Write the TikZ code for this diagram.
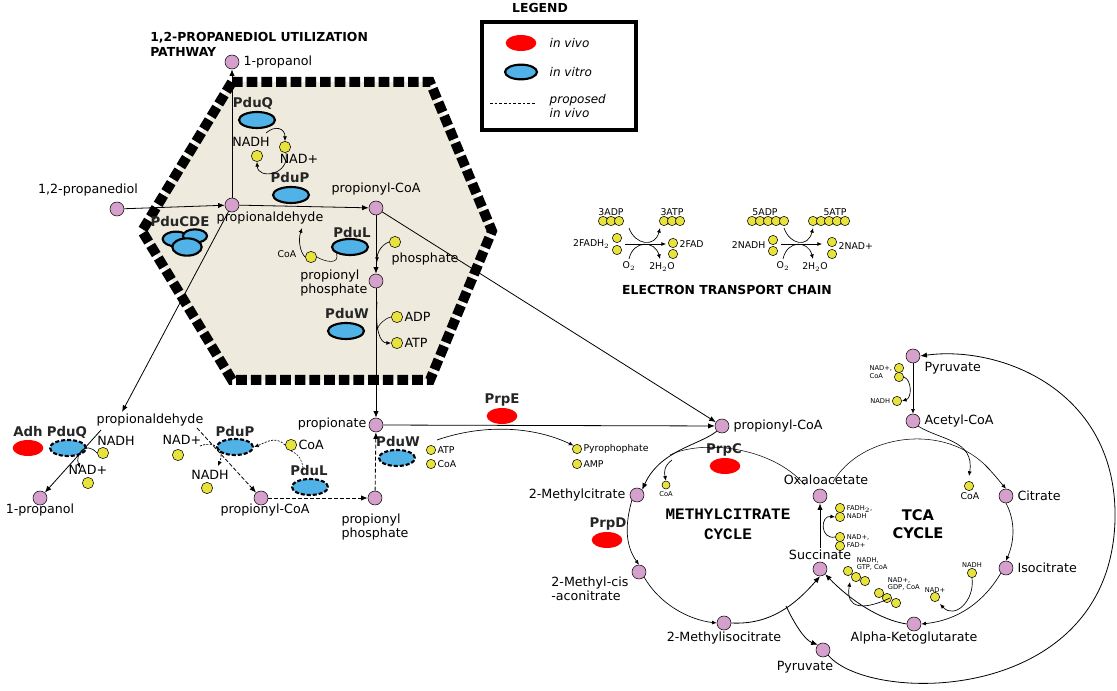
\documentclass[tikz,border=0pt]{standalone}
\usepackage{fontspec}
\setmainfont{DejaVu Sans}
\newfontfamily\monob{Liberation Mono}
\usetikzlibrary{shapes.geometric,arrows.meta}
\definecolor{metc}{RGB}{214,160,204}
\definecolor{cofc}{RGB}{232,226,60}
\definecolor{enzc}{RGB}{80,178,230}
\definecolor{hexc}{RGB}{238,234,222}
\begin{document}
\begin{tikzpicture}[x=0.75pt,y=-0.75pt,
  met/.style={circle,draw,fill=metc,minimum size=10.5pt,inner sep=0pt},
  cof/.style={circle,draw,fill=cofc,minimum size=8.5pt,inner sep=0pt},
  sc/.style={circle,draw,fill=cofc,minimum size=7pt,inner sep=0pt},
  enz/.style={ellipse,draw,line width=1.6pt,fill=enzc,minimum width=27pt,minimum height=12pt,inner sep=0pt},
  denz/.style={enz,dash pattern=on 3pt off 1.5pt},
  red/.style={ellipse,fill=red,minimum width=23pt,minimum height=12pt,inner sep=0pt},
  lb/.style={font=\fontsize{9.5}{11}\selectfont,inner sep=1pt,align=left},
  sl/.style={font=\fontsize{7}{8}\selectfont,inner sep=1pt,align=left},
  tl/.style={font=\fontsize{5}{5.5}\selectfont,inner sep=0.5pt,align=left},
  en/.style={font=\bfseries\fontsize{10}{11}\selectfont,inner sep=0pt,text=black!85},
  ti/.style={font=\bfseries\fontsize{9.3}{11.5}\selectfont,inner sep=0pt,align=left},
  ar/.style={-{Latex[length=5pt,width=4pt]},line width=0.6pt},
  sa/.style={-{Latex[length=3.5pt,width=3pt]},line width=0.5pt},
  da/.style={ar,dash pattern=on 3pt off 1.5pt},
  dsa/.style={sa,dash pattern=on 1.5pt off 1pt}]
\useasboundingbox (0,0) rectangle (1117,691);
% hexagon
\draw[fill=hexc,line width=7.5pt,dash pattern=on 8pt off 3pt] (232,82)--(430,82)--(492,231)--(430,380)--(232,380)--(142,231)--cycle;
% titles
\node[ti,anchor=north west] (t1) at (150,32) {1,2-PROPANEDIOL UTILIZATION\\PATHWAY};
\node[ti] (t2) at (727,290) {ELECTRON TRANSPORT CHAIN};
% legend
\node[ti] (lg) at (540,8) {LEGEND};
\draw[line width=3pt] (482,22) rectangle (636,130);
\node[red] (lr) at (521,43) {};
\node[enz,minimum width=24pt,minimum height=11pt] (lb1) at (521,72) {};
\coordinate (ld1) at (490,103); \coordinate (ld2) at (535,103);
\draw[dash pattern=on 2pt off 1.5pt] (ld1)--(ld2);
\node[anchor=west,font=\itshape\rmfamily\fontsize{9}{10}\selectfont] (lt1) at (545,43) {in vivo};
\node[anchor=west,font=\itshape\rmfamily\fontsize{9}{10}\selectfont] (lt2) at (545,72) {in vitro};
\node[anchor=west,font=\itshape\rmfamily\fontsize{9}{11}\selectfont,align=left] (lt3) at (545,106) {proposed\\in vivo};
% hexagon metabolites
\node[met] (prol1) at (232,62) {}; \node[lb,anchor=west] at (242,62) {1-propanol};
\node[met] (pdiol) at (117,209) {}; \node[lb] at (88,190) {1,2-propanediol};
\node[met] (pald) at (232,205) {}; \node[lb] at (270,218) {propionaldehyde};
\node[met] (pcoa) at (376,208) {}; \node[lb] at (376,189) {propionyl-CoA};
\node[met] (pph) at (376,281) {}; \node[lb,anchor=east,align=left] at (369,283) {propionyl\\phosphate};
\node[met] (pate) at (376,425) {}; \node[lb,anchor=east] at (368,424) {propionate};
\node[met] (pcoa2) at (722,426) {}; \node[lb,anchor=west] at (732,426) {propionyl-CoA};
\node[en] (pduq) at (253,103) {PduQ}; \node[enz] (pduqe) at (257,120) {};
\node[en] (pdup) at (290,178) {PduP}; \node[enz] (pdupe) at (291,195) {};
\node[enz,minimum width=20pt,minimum height=11pt] (c1) at (176,239) {};
\node[enz,minimum width=18pt,minimum height=10pt] (c2) at (195,236) {};
\node[enz,minimum width=22pt,minimum height=13pt] (c3) at (187,247) {};
\node[en] (pducde) at (180,222) {PduCDE};
\node[en] (pdul) at (352,233) {PduL}; \node[enz] (pdule) at (350,247) {};
\node[en] (pduw) at (347,314) {PduW}; \node[enz] (pduwe) at (346,331) {};
\node[cof] (nadh1) at (257,156) {}; \node[lb] at (251,142) {NADH};
\node[cof] (nad1) at (285,147) {}; \node[lb] at (299,159) {NAD+};
\node[cof] (coa1) at (311,257) {}; \node[sl] at (287,254) {CoA};
\node[cof] (phos) at (395,242) {}; \node[lb] at (425,259) {phosphate};
\node[cof] (adp) at (397,317) {}; \node[lb,anchor=west] at (adp.east) {ADP};
\node[cof] (atp) at (397,343) {}; \node[lb,anchor=west] at (atp.east) {ATP};
\draw[ar] (pdiol)--(pald);
\draw[ar] (pald)--(prol1);
\draw[ar] (pald)--(pcoa);
\draw[ar] (pcoa)--(pph);
\draw[ar] (pph)--(pate);
\draw[sa] (266,133) .. controls (275,125) and (285,128) .. (nad1.north);
\draw[sa] (286,153) .. controls (290,175) and (258,180) .. (nadh1.south);
\draw (pdule.south west) .. controls (340,265) and (325,262) .. (coa1.east);
\draw[sa] (coa1.west) .. controls (300,252) and (298,240) .. (302,228);
\draw[sa] (phos.west) .. controls (380,245) and (377,255) .. (377,262);
\draw[sa] (377,302) .. controls (375,330) and (380,343) .. (atp.west);
\draw (adp.west) .. controls (385,318) and (378,325) .. (377,330);
% to outside
\coordinate (palde) at (122,412);
\draw[ar] (pald)--(palde);
\draw[ar] (pcoa)--(pcoa2);
\draw[ar] (pate)--(pcoa2);
% bottom left
\node[lb] (pald2) at (150,420) {propionaldehyde};
\node[met] (prol2) at (40,498) {}; \node[lb] at (40,510) {1-propanol};
\node[met] (pcoa3) at (261,498) {}; \node[lb] at (265,510) {propionyl-CoA};
\node[met] (pph2) at (375,498) {}; \node[lb,align=left] at (375,527) {propionyl\\phosphate};
\node[en] (adh) at (28,432) {Adh}; \node[red] (adhe) at (28,448) {};
\node[en] (pduq2) at (67,432) {PduQ}; \node[denz] (pduq2e) at (68,448) {};
\node[en] (pdup2) at (235,432) {PduP}; \node[denz] (pdup2e) at (235,447) {};
\node[en] (pdul2) at (309,471) {PduL}; \node[denz] (pdul2e) at (310,487) {};
\node[en] (pduw2) at (398,442) {PduW}; \node[denz] (pduw2e) at (397,458) {};
\node[cof] (nadh2) at (103,453) {}; \node[lb] at (116,441) {NADH};
\node[cof] (nad2) at (88,483) {}; \node[lb] at (88,470) {NAD+};
\node[cof] (nad3) at (178,455) {}; \node[lb] at (182,440) {NAD+};
\node[cof] (nadh3) at (207,488) {}; \node[lb] at (210,475) {NADH};
\node[cof] (coa3) at (291,445) {}; \node[lb,anchor=west] at (coa3.east) {CoA};
\coordinate (q1) at (101,430);
\draw[ar] (q1)--(prol2);
\draw[sa] (nadh2.west) .. controls (85,440) and (75,455) .. (80,468);
\draw[da] (197,428)--(pcoa3);
\draw[dsa] (200,446) .. controls (215,440) and (225,450) .. (218,466);
\draw[dsa] (coa3.west) .. controls (275,435) and (265,443) .. (pdup2e.east);
\draw[dash pattern=on 1.5pt off 1pt] (coa3.south) .. controls (300,455) and (303,462) .. (303,470);
\draw[da] (pcoa3)--(pph2);
\draw[da] (pph2)--(pate);
% PrpE
\node[en] (prpe) at (502,400) {PrpE}; \node[red] (prpee) at (502,416) {};
\node[sc] (atp2) at (431,450) {}; \node[sl,anchor=west] at (atp2.east) {ATP};
\node[sc] (coa4) at (431,464) {}; \node[sl,anchor=west] at (coa4.east) {CoA};
\node[sc] (ppi) at (577,449) {}; \node[sl,anchor=west] at (ppi.east) {Pyrophophate};
\node[sc] (amp) at (577,464) {}; \node[sl,anchor=west] at (amp.east) {AMP};
\draw[sa] (437,440) .. controls (480,425) and (530,425) .. (ppi.north west);
% methylcitrate cycle
\node[met] (mc) at (637,495) {}; \node[lb,anchor=east] at (627,495) {2-Methylcitrate};
\node[met] (mca) at (639,572) {}; \node[lb,anchor=north east,align=left] at (630,575) {2-Methyl-cis\\-aconitrate};
\node[met] (mic) at (724,623) {}; \node[lb] at (724,638) {2-Methylisocitrate};
\node[met] (pyr1) at (823,650) {}; \node[lb] at (805,667) {Pyruvate};
\node[met] (suc) at (820,569) {}; \node[lb] at (820,555) {Succinate};
\node[met] (oaa) at (820,496) {}; \node[lb] at (826,480) {Oxaloacetate};
\node[met] (akg) at (914,624) {}; \node[lb] at (914,638) {Alpha-Ketoglutarate};
\node[met] (ict) at (1006,568) {}; \node[lb,anchor=west] at (1016,568) {Isocitrate};
\node[met] (cit) at (1006,496) {}; \node[lb,anchor=west] at (1016,496) {Citrate};
\node[met] (acoa) at (913,421) {}; \node[lb,anchor=west] at (923,421) {Acetyl-CoA};
\node[met] (pyr2) at (913,356) {}; \node[lb,anchor=west] at (923,368) {Pyruvate};
\node[en] (prpc) at (724,450) {PrpC}; \node[red] (prpce) at (725,466) {};
\node[en] (prpd) at (608,524) {PrpD}; \node[red] (prpde) at (607,540) {};
\node[font=\monob\bfseries\fontsize{12}{15}\selectfont,align=center] (mct) at (728,524) {METHYLCITRATE\\CYCLE};
\node[font=\bfseries\fontsize{11}{14}\selectfont,align=center] (tct) at (918,524) {TCA\\CYCLE};
\node[sc,minimum size=6pt] (coa5) at (666,485) {}; \node[tl] at (666,494) {CoA};
\draw[ar] (pcoa2.south west) .. controls (700,445) and (660,450) .. (mc.north east);
\draw (805,485) .. controls (770,445) and (700,440) .. (670,455);
\draw[sa] (672,460) .. controls (664,466) and (664,472) .. (coa5.north);
\draw[sa] (mc.south west) .. controls (625,525) and (625,545) .. (mca.north);
\draw[sa] (mca.south east) .. controls (660,605) and (690,620) .. (mic.west);
\draw[ar] (mic.east) .. controls (770,625) and (795,605) .. (suc.south);
\draw[ar] (786,606) .. controls (795,625) and (805,640) .. (pyr1.north west);
\draw[ar] (pyr1.south east) .. controls (870,705) and (1110,705) .. (1115,520) .. controls (1118,390) and (1000,345) .. (pyr2.east);
% TCA
\draw (833,482) .. controls (860,435) and (945,420) .. (990,470);
\draw[sa] (985,465) .. controls (995,475) and (1000,482) .. (cit.north);
\draw[sa] (cit.south) .. controls (1015,520) and (1015,540) .. (ict.north);
\draw[sa] (ict.south west) .. controls (985,600) and (960,620) .. (akg.east);
\draw[ar] (akg.west) .. controls (880,620) and (850,600) .. (suc.south east);
\draw[ar] (820,548)--(oaa.south);
\draw[sa] (pyr2.south)--(acoa.north);
\draw[sa] (acoa.south east) .. controls (940,440) and (975,440) .. (969,476);
\node[sc] (coa6) at (969,486) {}; \node[sl] at (970,496) {CoA};
\node[sc] (p1) at (899,368) {}; \node[sc] (p2) at (899,377) {}; \node[tl,anchor=east] at (893,372) {NAD+,\\CoA};
\node[sc] (p3) at (897,401) {}; \node[tl,anchor=east] at (891,401) {NADH};
\draw[sa] (p2.east) .. controls (912,380) and (912,398) .. (p3.east);
\node[sc] (f1) at (840,508) {}; \node[sc] (f2) at (840,517) {}; \node[tl,anchor=west] at (846,512) {FADH$_2$,\\NADH};
\node[sc] (f3) at (840,537) {}; \node[sc] (f4) at (840,546) {}; \node[tl,anchor=west] at (846,541) {NAD+,\\FAD+};
\draw[sa] (f3.west) .. controls (820,540) and (820,515) .. (f2.west);
\node[sc] (g1) at (848,571) {}; \node[sc] (g2) at (856,577) {}; \node[sc] (g3) at (865,581) {};
\node[tl,anchor=west] at (856,564) {NADH,\\GTP, CoA};
\node[sc] (g4) at (879,593) {}; \node[sc] (g5) at (887,598) {}; \node[sc] (g6) at (896,603) {};
\node[tl,anchor=west] at (887,584) {NAD+,\\GDP, CoA};
\draw[sa] (890,598) .. controls (865,610) and (845,610) .. (850,582);
\node[sc] (n1) at (972,573) {}; \node[tl] at (972,565) {NADH};
\node[sc] (n2) at (935,597) {}; \node[tl] at (935,590) {NAD+};
\draw[sa] (n1.south) .. controls (975,600) and (955,620) .. (940,604);
% ETC
\foreach \i/\x in {1/603,2/611,3/619}{\node[sc] (a\i) at (\x,221) {};}
\foreach \i/\x in {1/664,2/672,3/680}{\node[sc] (b\i) at (\x,221) {};}
\node[sl] at (611,212) {3ADP}; \node[sl] at (672,212) {3ATP};
\node[sc] (fa1) at (617,238) {}; \node[sc] (fa2) at (617,250) {}; \node[sl,anchor=east] at (611,244) {2FADH$_2$};
\node[sc] (fb1) at (673,243) {}; \node[sc] (fb2) at (673,254) {}; \node[sl,anchor=west] at (678,244) {2FAD};
\node[sl] (o1) at (629,266) {O$_2$}; \node[sl] (w1) at (662,267) {2H$_2$O};
\draw[sa] (625,244)--(666,244);
\draw[sa] (629,228) .. controls (635,245) and (655,248) .. (660,228);
\draw[sa] (629,259) .. controls (633,240) and (655,240) .. (660,259);
\foreach \i/\x in {1/752,2/760,3/768,4/776,5/784}{\node[sc] (c\i) at (\x,221) {};}
\foreach \i/\x in {1/813,2/821,3/829,4/837,5/845}{\node[sc] (d\i) at (\x,221) {};}
\node[sl] at (765,212) {5ADP}; \node[sl] at (835,212) {5ATP};
\node[sc] (na1) at (773,240) {}; \node[sc] (na2) at (773,251) {}; \node[sl,anchor=east] at (767,245) {2NADH};
\node[sc] (nb1) at (832,242) {}; \node[sc] (nb2) at (832,254) {}; \node[sl,anchor=west] at (837,246) {2NAD+};
\node[sl] (o2) at (783,266) {O$_2$}; \node[sl] (w2) at (815,267) {2H$_2$O};
\draw[sa] (781,244)--(822,244);
\draw[sa] (784,228) .. controls (790,245) and (808,248) .. (813,228);
\draw[sa] (783,259) .. controls (787,240) and (808,240) .. (813,259);
\end{tikzpicture}
\end{document}
